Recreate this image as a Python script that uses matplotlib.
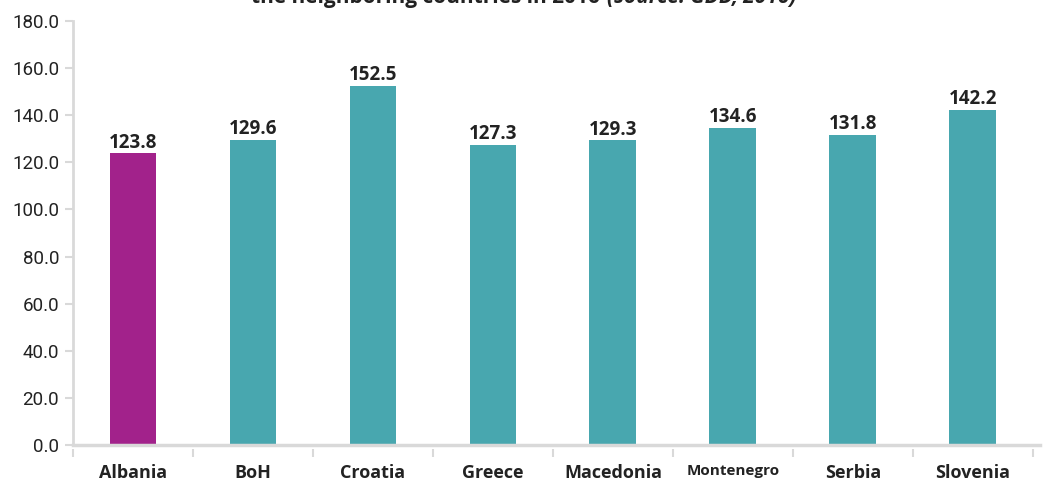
import matplotlib.pyplot as plt

countries = ["Albania", "BoH", "Croatia", "Greece", "Macedonia", "Montenegro", "Serbia", "Slovenia"]
values = [123.8, 129.6, 152.5, 127.3, 129.3, 134.6, 131.8, 142.2]
yticks = [0, 20, 40, 60, 80, 100, 120, 140, 160, 180]

teal = "#48A7AF"
purple = "#A2228B"
axis_grey = "#D9D9D9"
text_col = "#222222"

plt.rcParams["font.family"] = ["Open Sans", "DejaVu Sans"]

fig = plt.figure(figsize=(10.52, 4.82), dpi=100)
ax = fig.add_axes([73 / 1052, 1 - 445 / 482, (1040 - 73) / 1052, (445 - 21) / 482])

# offset bottom axis first: set_position resets tick styling
ax.spines["bottom"].set_position(("outward", 3))
ax.spines["bottom"].set_visible(False)

x = list(range(len(countries)))
colors = [purple] + [teal] * (len(countries) - 1)
ax.bar(x, values, width=0.39, color=colors, zorder=2)

for xi, v in zip(x, values):
    ax.text(xi, v + 0.3, f"{v:.1f}", ha="center", va="bottom",
            fontsize=13.5, fontweight="bold", color=text_col)

ax.set_xlim(-0.5, 7.56)
ax.set_ylim(0, 180)
ax.set_yticks(yticks)
ax.set_yticklabels([f"{t:.1f}" for t in yticks], fontfamily="Roboto", fontsize=13.5, color=text_col)
ax.tick_params(axis="y", length=6, width=1.5, color=axis_grey, pad=4)

# category labels with separator ticks between them
ax.set_xticks(x)
ax.set_xticklabels(countries, fontsize=13, fontweight="bold", color=text_col)
ax.get_xticklabels()[5].set_fontsize(11)
ax.tick_params(axis="x", which="major", length=0, pad=11)
ax.set_xticks([i - 0.5 for i in range(len(countries) + 1)], minor=True)
ax.tick_params(axis="x", which="minor", length=6, width=1.5, color=axis_grey)
ax.axhline(0, color=axis_grey, lw=2.5, zorder=3, clip_on=False)

for s in ["top", "right"]:
    ax.spines[s].set_visible(False)
ax.spines["left"].set_color(axis_grey)
ax.spines["left"].set_linewidth(2)

# title (second line of a two-line heading)
ty = 1 - 3 / 482
fig.text(605 / 1052, ty, "the neighboring countries in 2016 ", ha="right", va="baseline",
         fontsize=15, fontweight="bold", color=text_col)
fig.text(607 / 1052, ty, "(source: GDD, 2016)", ha="left", va="baseline",
         fontsize=15, fontweight="bold", fontstyle="italic", color=text_col)

fig.savefig("out.png", dpi=100)
